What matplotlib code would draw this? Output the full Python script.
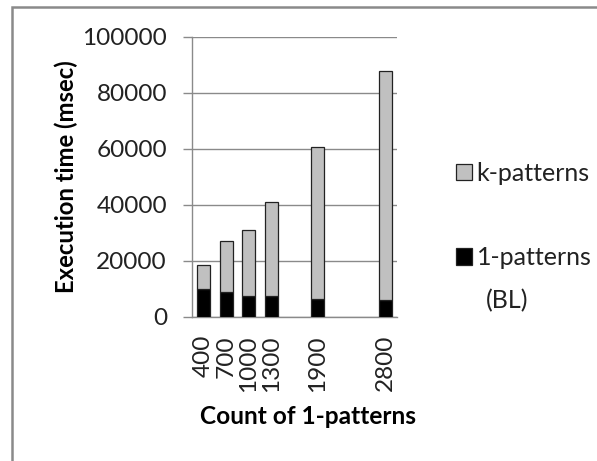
import matplotlib
matplotlib.use("Agg")
import matplotlib.pyplot as plt
from matplotlib.patches import Patch, Rectangle
import numpy as np

# pattern counts and execution times (msec)
counts = [400, 700, 1000, 1300, 1900, 2800]
one_patterns = [9900, 8800, 7500, 7500, 6500, 6100]
k_patterns = [8700, 18300, 23600, 33700, 54300, 81800]
y_ticks = [0, 20000, 40000, 60000, 80000, 100000]

plt.rcParams['font.family'] = ['Lato', 'DejaVu Sans']

fig = plt.figure(figsize=(5.97, 4.61), dpi=100)
ax = fig.add_axes([0.3216, 0.3124, 0.3434, 0.6074])

grid_col = '#8a8a8a'
ax.bar(counts, one_patterns, width=170, color='black', edgecolor='#222222',
       linewidth=0.9, zorder=3)
ax.bar(counts, k_patterns, width=170, bottom=one_patterns, color='#c0c0c0',
       edgecolor='#222222', linewidth=0.9, zorder=3)

ax.set_xlim(250, 2950)
ax.set_ylim(0, 100000)
ax.set_yticks(y_ticks)
ax.set_yticklabels([str(v) for v in y_ticks])
ax.set_xticks(counts)
ax.set_xticklabels([str(c) for c in counts], rotation=90)

ax.grid(axis='y', color=grid_col, linewidth=1.0, zorder=0)
for side in ['top', 'right']:
    ax.spines[side].set_visible(False)
for side in ['left', 'bottom']:
    ax.spines[side].set_color(grid_col)
    ax.spines[side].set_linewidth(1.0)

ax.tick_params(axis='y', direction='out', length=6.5, width=1.0,
               color=grid_col, pad=11.5, labelsize=17.6, labelcolor='#222222')
ax.tick_params(axis='x', length=0, pad=13, labelsize=17.6, labelcolor='#222222')

ax.set_xlabel("Count of 1-patterns", fontsize=17.6, fontweight='bold', va='center')
ax.xaxis.set_label_coords(0.566, -0.354)
ax.set_ylabel("Execution time (msec)", fontsize=17.2, fontweight='bold', va='center')
ax.yaxis.set_label_coords(-0.615, 0.5)

handles = [Patch(facecolor='#c0c0c0', edgecolor='#222222', linewidth=0.9),
           Patch(facecolor='black', edgecolor='#222222', linewidth=0.9)]
leg = fig.legend(handles, ['k-patterns', '1-patterns'], loc='upper left',
                 bbox_to_anchor=(456 / 597, 1 - 162 / 461), frameon=False,
                 fontsize=18, handlelength=0.62, handleheight=0.62,
                 handletextpad=0.2, labelspacing=2.45, borderpad=0,
                 borderaxespad=0)
for t in leg.get_texts():
    t.set_color('#222222')
fig.text(486 / 597, 1 - 301 / 461, "(BL)", fontsize=18, color='#222222',
         ha='left', va='center')

# outer chart border
fig.add_artist(Rectangle((12 / 597, -0.2), 1.2, 1.2 - 7 / 461,
                         transform=fig.transFigure, fill=False,
                         edgecolor='#8a8a8a', linewidth=1.8))

fig.savefig("out.png", dpi=100)
